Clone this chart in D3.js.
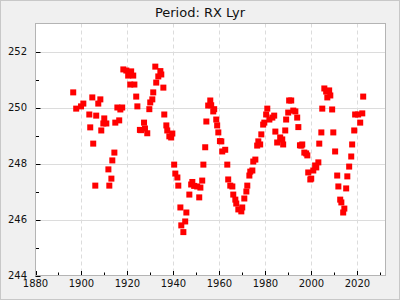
<!DOCTYPE html>
<html>
<head>
<meta charset="utf-8">
<script src="https://cdn.jsdelivr.net/npm/d3@7"></script>
<style>
  body { margin: 0; background: #f0f0f0; }
  svg { display: block; font-family: "DejaVu Sans", sans-serif; }
</style>
</head>
<body>
<svg id="chart"></svg>
<script>
const title = "Period: RX Lyr";

const years = [
  1896.4, 1897.7, 1899.8, 1900.8, 1903.4, 1903.8, 1904.7, 1905.1, 1906.0, 1906.4,
  1907.3, 1908.2, 1908.6, 1909.5, 1909.9, 1910.8, 1911.7, 1912.1, 1913.0, 1913.4,
  1914.3, 1914.7, 1915.6, 1916.4, 1916.9, 1917.7, 1918.2, 1919.5, 1920.3, 1921.2,
  1921.6, 1922.5, 1923.0, 1923.8, 1924.3, 1925.4, 1925.9, 1927.2, 1927.6, 1928.6,
  1929.5, 1929.9, 1930.8, 1931.2, 1932.1, 1932.5, 1933.4, 1934.3, 1934.7, 1935.6,
  1936.0, 1936.9, 1937.3, 1938.2, 1939.0, 1939.5, 1940.3, 1940.8, 1941.7, 1942.1,
  1943.0, 1943.4, 1944.3, 1945.1, 1945.6, 1946.9, 1947.7, 1948.2, 1949.0, 1950.3,
  1951.2, 1951.7, 1952.5, 1953.0, 1953.8, 1954.3, 1955.1, 1956.0, 1956.4, 1957.3,
  1957.7, 1958.6, 1959.0, 1959.5, 1960.2, 1960.8, 1961.2, 1962.5, 1963.4, 1963.8,
  1964.7, 1965.6, 1966.0, 1966.9, 1967.3, 1968.2, 1969.5, 1969.9, 1970.8, 1971.7,
  1972.1, 1973.0, 1973.4, 1974.3, 1974.7, 1975.6, 1976.4, 1976.9, 1977.7, 1978.2,
  1979.0, 1979.5, 1980.3, 1980.8, 1981.7, 1983.0, 1983.8, 1984.3, 1985.1, 1986.4,
  1987.3, 1987.7, 1988.6, 1989.0, 1989.9, 1990.3, 1991.2, 1992.1, 1993.0, 1993.8,
  1994.3, 1995.0, 1995.6, 1996.0, 1996.9, 1997.7, 1998.2, 1998.6, 1999.5, 1999.9,
  2000.8, 2001.6, 2002.1, 2003.0, 2003.4, 2004.3, 2004.7, 2005.6, 2006.4, 2006.9,
  2007.7, 2008.2, 2009.0, 2009.5, 2010.3, 2011.2, 2011.7, 2012.5, 2013.0, 2013.8,
  2014.3, 2015.1, 2015.6, 2016.4, 2017.3, 2017.7, 2018.6, 2019.0, 2020.3, 2021.2,
  2022.1, 2022.5
];

const periods = [
  250.54, 249.96, 250.04, 250.14, 249.75, 249.29, 250.36, 248.71, 247.21, 249.71,
  250.14, 250.29, 249.18, 249.43, 249.61, 249.43, 247.79, 247.21, 247.46, 248.11,
  248.39, 249.46, 250.00, 249.54, 249.93, 250.00, 251.36, 251.32, 251.14, 250.82,
  251.29, 251.14, 250.82, 250.39, 250.04, 249.20, 249.19, 249.46, 249.25, 249.08,
  249.94, 250.18, 250.29, 250.54, 251.46, 250.89, 251.11, 251.30, 251.18, 250.71,
  249.75, 249.36, 249.18, 248.97, 248.93, 249.07, 247.96, 247.64, 247.50, 247.21,
  246.43, 245.79, 245.55, 245.93, 246.25, 246.89, 247.25, 247.34, 247.20, 247.18,
  246.79, 247.14, 247.39, 247.96, 248.58, 249.50, 250.07, 250.25, 250.08, 249.86,
  249.94, 249.57, 249.36, 249.11, 248.80, 248.79, 248.43, 248.49, 247.96, 247.43,
  247.21, 247.18, 246.89, 246.71, 246.57, 246.36, 246.29, 246.43, 246.75, 247.00,
  247.21, 247.57, 247.71, 247.75, 248.07, 248.14, 248.64, 248.79, 248.68, 249.04,
  249.39, 249.46, 249.75, 249.96, 249.57, 249.64, 249.71, 249.14, 248.75, 248.93,
  248.86, 248.68, 249.18, 249.57, 249.82, 250.25, 250.25, 249.89, 249.86, 249.64,
  249.30, 248.65, 248.64, 248.68, 248.39, 248.36, 248.29, 247.68, 247.43, 247.46,
  247.75, 247.93, 247.86, 248.04, 248.71, 249.11, 249.96, 250.68, 250.57, 250.36,
  250.61, 250.43, 249.93, 249.11, 248.43, 247.57, 247.18, 246.71, 246.61, 246.25,
  246.39, 247.11, 247.54, 247.89, 248.25, 248.68, 249.18, 249.75, 249.75, 249.46,
  249.79, 250.39
];

const xMajor = [1880, 1900, 1920, 1940, 1960, 1980, 2000, 2020];
const xMinor = [1890, 1910, 1930, 1950, 1970, 1990, 2010, 2030];
const yMajor = [244, 246, 248, 250, 252];
const yMinor = [245, 247, 249, 251];

const width = 400;
const height = 300;
const plotLeft = 35.5, plotRight = 385.5, plotTop = 23.5, plotBottom = 275.5;

const svg = d3.select("#chart").attr("width", width).attr("height", height);

svg.append("rect")
  .attr("x", 0.5).attr("y", 0.5)
  .attr("width", width - 1).attr("height", height - 1)
  .attr("fill", "#f0f0f0")
  .attr("stroke", "#c8c8c8");

const x = d3.scaleLinear().domain([1880, 2032.2]).range([plotLeft, plotRight]);
const y = d3.scaleLinear().domain([244, 253]).range([plotBottom, plotTop]);

svg.append("text")
  .attr("x", width / 2)
  .attr("y", 17)
  .attr("text-anchor", "middle")
  .attr("font-size", 13)
  .attr("fill", "#111")
  .text(title);

svg.append("rect")
  .attr("x", plotLeft).attr("y", plotTop)
  .attr("width", plotRight - plotLeft).attr("height", plotBottom - plotTop)
  .attr("fill", "#fff");

// grid
svg.append("g")
  .selectAll("line")
  .data(yMajor.filter((d) => d > 244))
  .join("line")
  .attr("x1", plotLeft).attr("x2", plotRight)
  .attr("y1", (d) => Math.round(y(d)) + 0.5)
  .attr("y2", (d) => Math.round(y(d)) + 0.5)
  .attr("stroke", "#dcdcdc");

svg.append("g")
  .selectAll("line")
  .data(xMajor.filter((d) => d > 1880))
  .join("line")
  .attr("x1", (d) => Math.round(x(d)) + 0.5)
  .attr("x2", (d) => Math.round(x(d)) + 0.5)
  .attr("y1", plotTop).attr("y2", plotBottom)
  .attr("stroke", "#dcdcdc")
  .attr("stroke-dasharray", "4,3");

// ticks
const ticks = svg.append("g").attr("stroke", "#000");
ticks.selectAll(".ym")
  .data(yMajor.concat(yMinor))
  .join("line")
  .attr("x1", plotLeft)
  .attr("x2", (d) => plotLeft + (d % 2 === 0 ? 5 : 3.5))
  .attr("y1", (d) => Math.round(y(d)) + 0.5)
  .attr("y2", (d) => Math.round(y(d)) + 0.5);
ticks.selectAll(".xm")
  .data(xMajor.concat(xMinor))
  .join("line")
  .attr("x1", (d) => Math.round(x(d)) + 0.5)
  .attr("x2", (d) => Math.round(x(d)) + 0.5)
  .attr("y1", plotBottom)
  .attr("y2", (d) => plotBottom - (d % 20 === 0 ? 4.5 : 3));

svg.append("rect")
  .attr("x", plotLeft).attr("y", plotTop)
  .attr("width", plotRight - plotLeft).attr("height", plotBottom - plotTop)
  .attr("fill", "none")
  .attr("stroke", "#b4b4b4");

// labels
svg.append("g")
  .selectAll("text")
  .data(yMajor)
  .join("text")
  .attr("x", 27)
  .attr("y", (d) => y(d) + 3.5)
  .attr("text-anchor", "end")
  .attr("font-size", 10)
  .attr("fill", "#111")
  .text((d) => d);

svg.append("g")
  .selectAll("text")
  .data(xMajor)
  .join("text")
  .attr("x", (d) => x(d))
  .attr("y", 287)
  .attr("text-anchor", "middle")
  .attr("font-size", 10)
  .attr("fill", "#111")
  .text((d) => d);

// points
const size = 6;
svg.append("g")
  .selectAll("rect")
  .data(d3.zip(years, periods))
  .join("rect")
  .attr("x", (d) => x(d[0]) - size / 2)
  .attr("y", (d) => y(d[1]) - size / 2)
  .attr("width", size)
  .attr("height", size)
  .attr("fill", "#ff0000");
</script>
</body>
</html>
